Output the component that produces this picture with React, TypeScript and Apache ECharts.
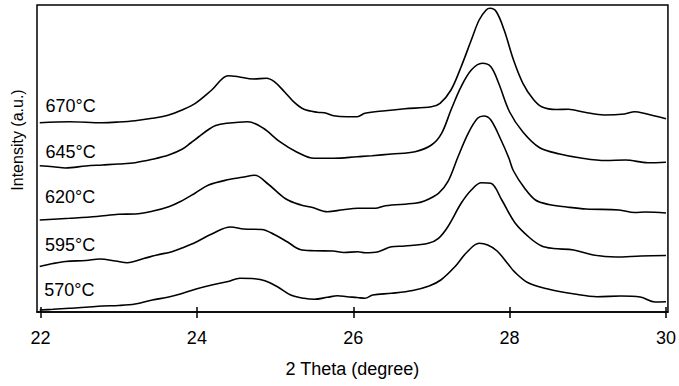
import React, { useEffect, useRef } from "react";
import * as echarts from "echarts";

// 2θ (degree) vs intensity (a.u., stacked traces)
const s670: [number, number][] = [
  [21.99, 189.3], [22.37, 190.3], [22.79, 189.3], [23.0, 190], [23.21, 191.3], [23.43, 193.7],
  [23.64, 197], [23.81, 202], [23.98, 208.7], [24.19, 222], [24.4, 236.3], [24.53, 235.3],
  [24.72, 233], [24.89, 233.7], [24.99, 230.3], [25.12, 220.3], [25.25, 209.3], [25.37, 202.7],
  [25.54, 199.7], [25.63, 199.3], [25.75, 196.3], [25.92, 195.3], [26.05, 195.3], [26.15, 198.7],
  [26.41, 201.3], [26.66, 203.3], [27.0, 205.3], [27.11, 208.7], [27.25, 222], [27.38, 245.3],
  [27.51, 272], [27.61, 292], [27.7, 302], [27.75, 303.7], [27.83, 300.3], [27.93, 282],
  [28.05, 252], [28.17, 228.7], [28.3, 213], [28.41, 205.3], [28.6, 202.5], [28.75, 202.7],
  [28.96, 199.7], [29.21, 197], [29.47, 198], [29.6, 200.3], [29.73, 198.5], [30.0, 193.3],
];
const s645: [number, number][] = [
  [21.99, 146.3], [22.16, 145.3], [22.32, 144], [22.58, 146], [22.79, 147], [23.0, 148],
  [23.21, 149.3], [23.43, 152.7], [23.64, 157], [23.81, 162.7], [23.92, 169], [24.02, 175],
  [24.14, 182], [24.24, 186.5], [24.38, 188.7], [24.65, 190.3], [24.85, 183.7], [25.06, 170.3],
  [25.27, 160.3], [25.5, 153.7], [25.75, 153.7], [26.05, 155.3], [26.24, 156.3], [26.49, 158],
  [26.79, 160.3], [27.0, 167], [27.13, 178.7], [27.25, 202], [27.38, 225.3], [27.51, 242],
  [27.65, 248.7], [27.76, 245.3], [27.86, 228.7], [28.0, 200], [28.17, 180], [28.38, 164.5],
  [28.64, 158], [28.91, 154], [29.23, 151.5], [29.48, 152], [29.77, 149.3], [30.0, 149.8],
];
const s620: [number, number][] = [
  [21.99, 92], [22.37, 93.7], [22.72, 95.5], [23.0, 97.7], [23.21, 98], [23.44, 101],
  [23.64, 105.3], [23.79, 110.5], [23.98, 119], [24.15, 127], [24.41, 132.5], [24.58, 134.7],
  [24.74, 136.7], [24.91, 128], [25.14, 113], [25.33, 107], [25.48, 104.5], [25.67, 100.3],
  [25.87, 102.3], [26.06, 103.7], [26.28, 103.7], [26.41, 106.3], [26.79, 108.7], [26.91, 111],
  [27.09, 118.7], [27.21, 130.3], [27.34, 155.3], [27.47, 178.7], [27.59, 193.7], [27.67, 196],
  [27.76, 192], [27.89, 172], [27.99, 154], [28.05, 141], [28.19, 124], [28.33, 112],
  [28.5, 107.5], [28.73, 105], [28.98, 103], [29.4, 102], [29.6, 99.5], [29.74, 100], [30.0, 99],
];
const s595: [number, number][] = [
  [21.99, 45.5], [22.16, 48.5], [22.32, 50.5], [22.58, 51.5], [22.76, 53], [22.96, 51],
  [23.11, 49.3], [23.32, 53.5], [23.49, 57], [23.68, 60.3], [23.81, 64], [23.98, 69.5],
  [24.19, 78], [24.43, 85], [24.6, 83], [24.83, 82.5], [24.99, 77.5], [25.16, 70],
  [25.32, 62.5], [25.5, 61.3], [25.74, 61], [25.88, 59.5], [26.06, 60.3], [26.15, 59.3],
  [26.32, 60.3], [26.49, 65.3], [26.66, 66], [26.96, 68.7], [27.09, 73.7], [27.21, 85.3],
  [27.38, 108.7], [27.51, 122], [27.64, 129.3], [27.76, 128.7], [27.9, 112], [28.07, 89],
  [28.26, 74], [28.41, 66], [28.56, 63.5], [28.82, 62], [29.07, 57], [29.36, 55],
  [29.68, 56], [30.0, 56.5],
];
const s570: [number, number][] = [
  [21.99, 2], [22.16, 2.7], [22.37, 3.7], [22.58, 4.7], [22.79, 6], [23.0, 6.5],
  [23.21, 8], [23.43, 12], [23.64, 15], [23.81, 18.5], [23.99, 23], [24.19, 27],
  [24.4, 30.5], [24.55, 33.7], [24.74, 33.3], [24.87, 31.3], [25.03, 25.3], [25.2, 17],
  [25.37, 13.7], [25.5, 12.7], [25.67, 14.7], [25.8, 16.3], [25.92, 15.3], [26.05, 14.5],
  [26.15, 13.7], [26.25, 17], [26.49, 18.7], [26.76, 21.5], [26.97, 26], [27.12, 32],
  [27.3, 45.3], [27.45, 59.5], [27.61, 68.7], [27.72, 67], [27.84, 61], [27.98, 48],
  [28.06, 40.3], [28.23, 29.5], [28.49, 23], [28.83, 18], [29.12, 15.3], [29.42, 16],
  [29.67, 15], [29.86, 10], [30.0, 10.3],
];

const seriesData = [s670, s645, s620, s595, s570];
const curveLabels = ["670°C", "645°C", "620°C", "595°C", "570°C"];
const xTicks = [22, 24, 26, 28, 30];

const FONT = '"Liberation Sans", Arial, Helvetica, sans-serif';

export default function App() {
  const ref = useRef<HTMLDivElement>(null);
  useEffect(() => {
    if (!ref.current) return;
    const chart = echarts.init(ref.current, undefined, { renderer: "svg" });
    const labelY = [105.5, 151.5, 197, 245, 290];
    const labelX = [45.5, 45.5, 45, 45, 44.3];
    chart.setOption({
      animation: false,
      backgroundColor: "#fff",
      grid: {
        left: 37,
        right: 7,
        top: 5,
        bottom: 74,
        show: true,
        borderColor: "#000",
        borderWidth: 1.5,
        backgroundColor: "transparent",
      },
      xAxis: [
        {
          type: "value",
          min: 21.955,
          max: 30.025,
          name: "2 Theta (degree)",
          nameLocation: "middle",
          nameGap: 48,
          nameTextStyle: { color: "#000", fontSize: 18, fontFamily: FONT },
          axisLine: { show: true, onZero: false, lineStyle: { color: "#000", width: 1.5 } },
          axisTick: { show: true, inside: true, length: 5, customValues: xTicks, lineStyle: { color: "#000", width: 1.5 } },
          axisLabel: { show: true, customValues: xTicks, margin: 17, color: "#000", fontSize: 18, fontFamily: FONT },
          splitLine: { show: false },
        },
        {
          type: "value",
          min: 21.955,
          max: 30.025,
          position: "bottom",
          axisLine: { show: false },
          axisTick: { show: true, inside: false, length: 6, customValues: xTicks, lineStyle: { color: "#000", width: 1.5 } },
          axisLabel: { show: false },
          splitLine: { show: false },
        },
      ],
      yAxis: {
        type: "value",
        min: 0,
        max: 307,
        axisLine: { show: false },
        axisTick: { show: false },
        axisLabel: { show: false },
        splitLine: { show: false },
      },
      graphic: [
        {
          type: "text",
          x: 17,
          y: 140,
          rotation: Math.PI / 2,
          style: {
            text: "Intensity (a.u.)",
            fill: "#000",
            fontSize: 16,
            fontFamily: FONT,
            align: "center",
            verticalAlign: "middle",
          },
        },
        ...curveLabels.map((t, i) => ({
          type: "text",
          x: labelX[i],
          y: labelY[i],
          style: {
            text: t,
            fill: "#000",
            fontSize: 18,
            fontFamily: FONT,
            align: "left",
            verticalAlign: "middle",
          },
        })),
      ],
      series: seriesData.map((d, i) => ({
        name: curveLabels[i],
        type: "line",
        xAxisIndex: 0,
        data: d,
        smooth: 0.35,
        showSymbol: false,
        symbol: "none",
        lineStyle: { color: "#000", width: 1.6 },
      })),
    });
    return () => chart.dispose();
  }, []);
  return (
    <div
      ref={ref}
      style={{ position: "fixed", left: 0, top: 0, width: 679, height: 386, background: "#fff" }}
    />
  );
}
